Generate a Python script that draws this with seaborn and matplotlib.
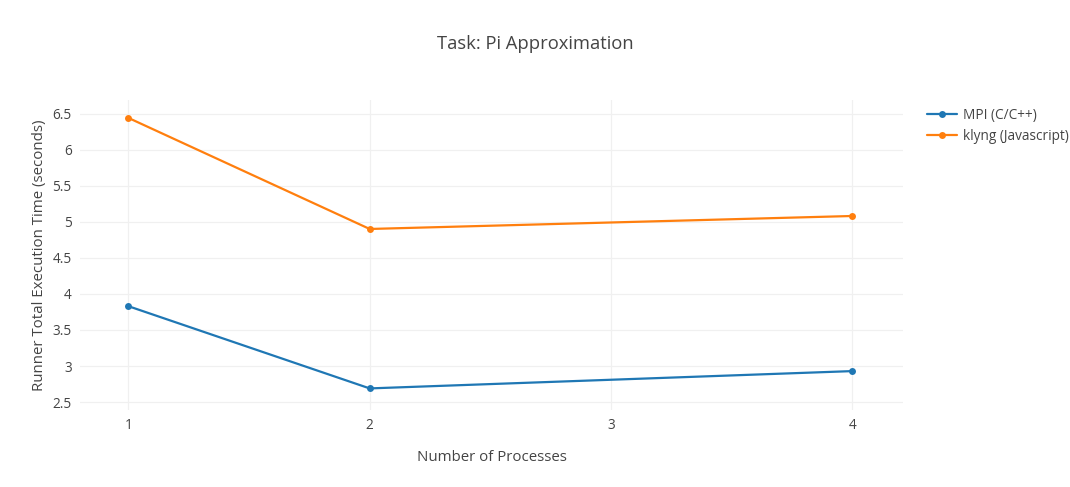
import pandas as pd
import matplotlib
matplotlib.use('Agg')
import matplotlib.pyplot as plt
import seaborn as sns

processes = [1, 2, 4]
mpi_times = [3.83, 2.69, 2.93]
klyng_times = [6.44, 4.90, 5.08]
series_names = ['MPI (C/C++)', 'klyng (Javascript)']

df = pd.DataFrame({
    'procs': processes * 2,
    'time': mpi_times + klyng_times,
    'impl': [series_names[0]] * 3 + [series_names[1]] * 3,
})

sns.set_style('white')
plt.rcParams['font.family'] = ['Open Sans', 'DejaVu Sans']
text_col = '#444444'

fig = plt.figure(figsize=(10.7, 4.87), dpi=100)
ax = fig.add_axes([0.0748, 0.158, 0.7692, 0.637])
sns.lineplot(data=df, x='procs', y='time', hue='impl', marker='o', markersize=5,
             markeredgewidth=0, linewidth=1.6, palette=['#1f77b4', '#ff7f0e'], ax=ax)

ax.set_xlim(0.8, 4.21)
ax.set_ylim(2.39, 6.69)
ax.set_xticks([1, 2, 3, 4])
ax.set_yticks([2.5, 3, 3.5, 4, 4.5, 5, 5.5, 6, 6.5])
ax.set_yticklabels(['2.5', '3', '3.5', '4', '4.5', '5', '5.5', '6', '6.5'])
ax.grid(True, color='#f0f0f0', linewidth=0.9)
ax.set_axisbelow(True)
for s in ax.spines.values():
    s.set_visible(False)
ax.tick_params(length=0, colors=text_col, labelsize=9.8, pad=6)

ax.set_xlabel('Number of Processes', color=text_col, fontsize=10.8, labelpad=12)
ax.set_ylabel('Runner Total Execution Time (seconds)', color=text_col, fontsize=10.8, labelpad=4)
fig.text(0.5, 0.91, 'Task: Pi Approximation', color=text_col, fontsize=13.2,
         ha='center', va='center')

leg = ax.legend(loc='upper left', bbox_to_anchor=(0.861, 0.789), bbox_transform=fig.transFigure,
                frameon=False, fontsize=9.8, handlelength=2.2, handletextpad=0.5,
                borderaxespad=0, labelspacing=0.4)
for t in leg.get_texts():
    t.set_color(text_col)

fig.savefig('out.png', dpi=100)
